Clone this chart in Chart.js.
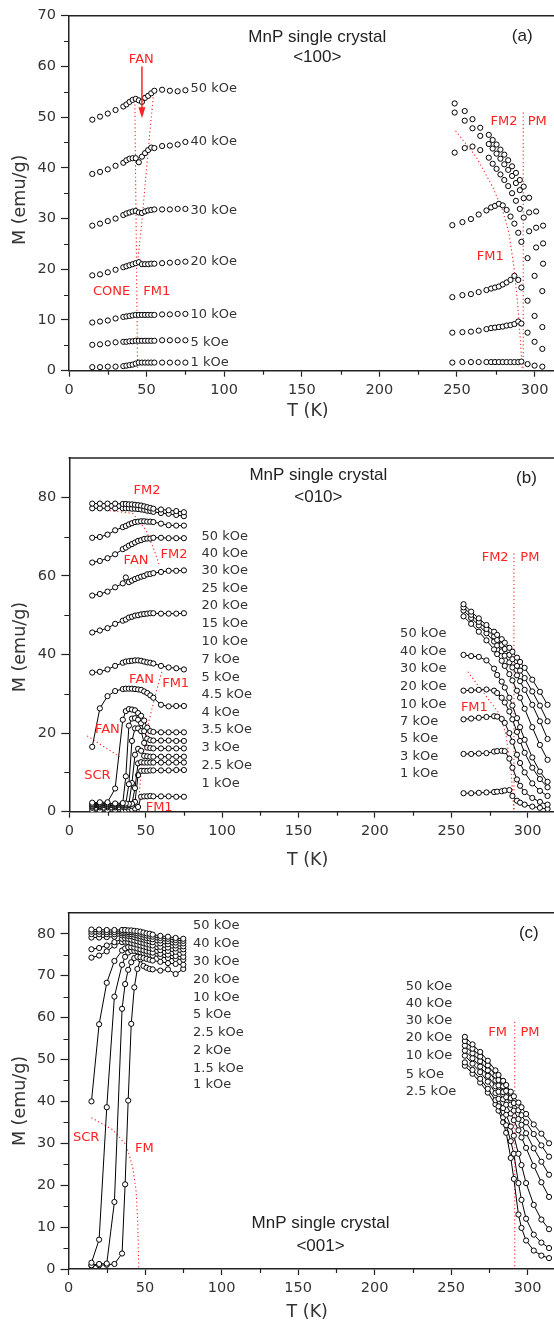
<!DOCTYPE html>
<html>
<head>
<meta charset="utf-8">
<script src="https://cdn.jsdelivr.net/npm/chart.js@4.4.1/dist/chart.umd.min.js"></script>
<style>
  html, body { margin: 0; padding: 0; background: #fff; overflow: hidden; width: 554px; height: 1330px; }
  .panel { position: absolute; left: 0; }
</style>
</head>
<body>
<div class="panel" style="top:0"><canvas id="chartA" width="590" height="440"></canvas></div>
<div class="panel" style="top:440px"><canvas id="chartB" width="590" height="440"></canvas></div>
<div class="panel" style="top:880px"><canvas id="chartC" width="590" height="450"></canvas></div>
<script>
// ---------- (a) field along <100> ----------
const tA_low = [15, 20, 25, 30, 35, 37, 39, 41, 43, 45, 47, 49, 51, 53, 55, 60, 65, 70, 75];
const mA_low50 = [49.5, 50.1, 50.7, 51.4, 52.1, 52.5, 53.0, 53.4, 53.6, 53.3, 53.0, 53.8, 54.2, 54.7, 55.2, 55.4, 55.2, 55.1, 55.3];
const mA_low40 = [38.8, 39.2, 39.7, 40.4, 41.0, 41.5, 41.8, 41.9, 41.9, 41.1, 42.2, 42.9, 43.5, 44.0, 43.9, 44.3, 44.4, 44.6, 45.1];
const mA_low30 = [28.6, 29.0, 29.5, 30.0, 30.7, 31.0, 31.2, 31.4, 31.5, 31.2, 31.1, 31.4, 31.6, 31.7, 31.8, 31.8, 31.8, 31.9, 31.9];
const mA_low20 = [18.8, 19.0, 19.4, 19.9, 20.4, 20.6, 20.8, 21.0, 21.2, 21.4, 21.0, 21.0, 21.0, 21.1, 21.1, 21.2, 21.3, 21.4, 21.5];
const mA_low10 = [9.5, 9.7, 9.9, 10.3, 10.6, 10.7, 10.8, 10.9, 11.0, 11.0, 11.0, 11.0, 11.0, 11.0, 11.0, 11.1, 11.1, 11.2, 11.2];
const mA_low5 = [5.1, 5.2, 5.4, 5.6, 5.7, 5.7, 5.8, 5.8, 5.9, 5.9, 5.9, 5.9, 5.9, 5.9, 5.9, 6.0, 6.0, 6.0, 6.0];
const mA_low1 = [0.7, 0.7, 0.8, 0.8, 0.9, 1.0, 1.1, 1.2, 1.4, 1.6, 1.6, 1.6, 1.6, 1.6, 1.6, 1.6, 1.6, 1.6, 1.6];

const tA_high = [247, 253.5, 259, 264, 269, 272, 274.5, 277, 279.5, 282, 284.5, 287, 289.5, 291.5, 295.5, 300, 305];
const mA_high20 = [28.7, 29.3, 29.9, 30.8, 31.6, 32.2, 32.5, 32.9, 32.6, 31.7, 30.4, 29.0, 27.2, 25.4, 22.2, 18.7, 15.7];
const mA_high10 = [14.5, 14.9, 15.1, 15.5, 15.9, 16.2, 16.4, 16.6, 17.0, 17.4, 17.9, 18.7, 17.9, 16.4, 13.8, 10.8, 8.6];
const mA_high5 = [7.5, 7.6, 7.7, 7.9, 8.2, 8.4, 8.5, 8.6, 8.7, 8.9, 9.0, 9.2, 9.7, 9.3, 7.5, 5.7, 4.3];
const mA_high1 = [1.6, 1.7, 1.7, 1.7, 1.7, 1.7, 1.7, 1.7, 1.7, 1.7, 1.7, 1.7, 1.7, 1.8, 1.3, 1.0, 0.8];
const tA_highHF = [248.5, 255, 260, 265, 270.5, 273, 275.5, 278, 280.5, 283, 285.5, 288, 290.5, 293, 296.5, 301, 305.5];
const mA_high50 = [52.7, 51.2, 49.6, 47.9, 46.5, 45.5, 44.6, 43.6, 42.6, 41.5, 40.3, 39.0, 37.6, 36.3, 34.1, 31.4, 28.6];
const mA_high40 = [50.9, 49.3, 47.8, 46.3, 44.7, 43.8, 42.8, 41.8, 40.7, 39.6, 38.4, 37.0, 35.6, 34.0, 31.2, 28.2, 25.1];
const mA_high30 = [43.0, 43.9, 44.2, 43.5, 42.0, 40.8, 39.8, 38.7, 37.6, 36.4, 35.0, 33.5, 31.9, 30.2, 27.5, 24.3, 21.1];

const fieldsA = ['50 kOe', '40 kOe', '30 kOe', '20 kOe', '10 kOe', '5 kOe', '1 kOe'];

// ---------- (b) field along <010> ----------
const tB_low = [15, 20, 25, 30, 35, 37, 39, 41, 43, 45, 47, 49, 51, 53, 55, 60, 65, 70, 75];
const mB_low50 = [78.4, 78.4, 78.4, 78.4, 78.3, 78.3, 78.2, 78.2, 78.1, 78.0, 77.9, 77.7, 77.5, 77.3, 77.1, 76.9, 76.7, 76.5, 76.2];
const mB_low40 = [77.2, 77.2, 77.2, 77.2, 77.2, 77.2, 77.2, 77.1, 77.1, 77.0, 76.9, 76.8, 76.6, 76.5, 76.3, 76.0, 75.8, 75.5, 75.2];
const mB_low30 = [69.7, 69.9, 70.5, 71.6, 72.4, 72.7, 73.1, 73.4, 73.7, 73.8, 73.9, 73.9, 73.8, 73.8, 73.7, 73.3, 72.9, 72.8, 72.8];
const mB_low25 = [63.4, 63.8, 64.5, 65.5, 66.8, 67.2, 67.7, 68.1, 68.5, 68.9, 69.1, 69.4, 69.5, 69.5, 69.7, 69.7, 69.6, 69.6, 69.6];
const mB_low20 = [55.0, 55.4, 56.0, 57.1, 58.1, 59.6, 58.4, 58.8, 59.2, 59.5, 59.8, 60.0, 60.4, 60.5, 60.7, 61.0, 61.3, 61.3, 61.4];
const mB_low15 = [45.6, 46.1, 46.7, 47.8, 48.6, 48.9, 49.4, 49.6, 49.9, 50.0, 50.2, 50.3, 50.4, 50.5, 50.5, 50.4, 50.4, 50.4, 50.5];
const mB_low10 = [35.4, 35.6, 36.2, 37.1, 37.9, 38.2, 38.3, 38.4, 38.5, 38.5, 38.4, 38.2, 38.0, 37.9, 37.7, 37.1, 36.7, 36.5, 36.2];
const mB_low7 = [16.5, 26.3, 29.4, 30.7, 31.2, 31.3, 31.3, 31.3, 31.2, 31.1, 31.0, 30.6, 30.2, 29.6, 29.0, 27.2, 26.8, 26.9, 26.9];
const mB_low5 = [2.3, 2.4, 2.4, 5.9, 23.4, 25.6, 26.1, 26.0, 25.8, 25.1, 24.4, 23.2, 21.4, 20.5, 20.3, 20.2, 20.2, 20.2, 20.2];
const mB_low45 = [2.0, 2.1, 2.1, 2.1, 2.2, 9.0, 21.9, 23.7, 23.8, 23.4, 22.5, 20.5, 18.6, 18.2, 18.1, 18.1, 18.1, 18.0, 18.0];
const mB_low4 = [1.8, 1.9, 1.9, 1.9, 2.0, 2.1, 7.0, 18.0, 21.2, 21.2, 20.5, 17.5, 16.3, 16.2, 16.1, 16.1, 16.1, 16.1, 16.1];
const mB_low35 = [1.5, 1.6, 1.6, 1.6, 1.7, 1.8, 2.0, 7.3, 14.5, 16.0, 15.5, 14.2, 14.1, 14.0, 14.0, 14.0, 14.0, 14.0, 14.0];
const mB_low3 = [1.3, 1.4, 1.4, 1.4, 1.5, 1.6, 1.7, 2.0, 6.0, 12.3, 12.6, 12.5, 12.5, 12.5, 12.5, 12.5, 12.5, 12.5, 12.5];
const mB_low25k = [1.0, 1.1, 1.1, 1.1, 1.2, 1.2, 1.3, 1.5, 2.5, 9.3, 10.4, 10.4, 10.4, 10.5, 10.5, 10.5, 10.5, 10.6, 10.6];
const mB_low1 = [0.4, 0.4, 0.4, 0.5, 0.5, 0.5, 0.6, 0.6, 0.8, 1.2, 3.8, 3.9, 3.9, 4.0, 3.9, 3.9, 3.9, 3.8, 3.8];

const tB_high = [258, 263, 268, 273, 278, 280, 283, 285, 288, 290, 293, 295, 298, 303, 308, 313];
const mB_high50 = [52.8, 50.9, 49.2, 47.5, 45.8, 45.0, 43.9, 43.0, 41.7, 40.7, 39.2, 38.1, 36.6, 33.6, 30.5, 27.2];
const mB_high40 = [52.0, 50.1, 48.3, 46.5, 44.6, 43.7, 42.4, 41.4, 39.9, 38.8, 37.1, 35.9, 34.0, 30.6, 27.0, 23.0];
const mB_high30 = [51.2, 49.3, 47.4, 45.4, 43.3, 42.3, 40.8, 39.7, 38.0, 36.7, 34.7, 33.2, 31.0, 27.2, 23.0, 18.5];
const mB_high20 = [49.7, 47.8, 45.8, 43.6, 41.3, 40.1, 38.4, 37.1, 35.0, 33.4, 30.8, 29.0, 26.2, 21.5, 17.0, 13.2];
const mB_high10 = [39.9, 39.6, 39.4, 38.5, 36.4, 34.8, 33.1, 31.6, 29.0, 27.0, 23.8, 21.5, 18.3, 13.8, 10.2, 7.6];
const mB_high7 = [30.8, 30.9, 31.0, 31.1, 30.8, 30.2, 29.0, 27.8, 25.5, 23.5, 20.3, 18.0, 15.0, 11.2, 8.3, 6.2];
const mB_high5 = [23.5, 23.7, 23.9, 24.1, 24.3, 24.2, 23.6, 22.6, 20.0, 17.8, 14.5, 12.4, 10.0, 7.2, 5.3, 4.0];
const mB_high3 = [14.7, 14.7, 14.8, 14.9, 15.3, 15.4, 15.5, 15.4, 13.5, 11.2, 8.2, 6.6, 5.0, 3.5, 2.5, 1.8];
const mB_high1 = [4.7, 4.7, 4.8, 4.9, 5.0, 5.1, 5.2, 5.4, 5.5, 4.0, 2.8, 2.3, 1.8, 1.3, 1.0, 0.7];

const fieldsB_low = ['50 kOe', '40 kOe', '30 kOe', '25 kOe', '20 kOe', '15 kOe', '10 kOe', '7 kOe', '5 kOe',
  '4.5 kOe', '4 kOe', '3.5 kOe', '3 kOe', '2.5 kOe', '1 kOe'];
const fieldsB_high = ['50 kOe', '40 kOe', '30 kOe', '20 kOe', '10 kOe', '7 kOe', '5 kOe', '3 kOe', '1 kOe'];

// ---------- (c) field along <001> ----------
const tC_low = [15, 20, 25, 30, 35, 37, 39, 41, 43, 45, 47, 49, 51, 53, 55, 60, 65, 70, 75];
const mC_low50 = [81.0, 81.0, 80.9, 80.9, 80.9, 80.9, 80.8, 80.8, 80.7, 80.6, 80.5, 80.3, 80.1, 80.0, 79.8, 79.5, 79.3, 79.0, 78.8];
const mC_low40 = [80.5, 80.5, 80.4, 80.4, 80.5, 80.5, 80.4, 80.4, 80.3, 80.1, 80.0, 79.8, 79.6, 79.5, 79.3, 79.0, 78.8, 78.5, 78.3];
const mC_low30 = [79.9, 79.9, 79.9, 79.9, 80.1, 80.1, 80.0, 79.9, 79.8, 79.6, 79.4, 79.2, 79.0, 78.9, 78.7, 78.4, 78.2, 77.9, 77.7];
const mC_low20 = [79.1, 79.1, 79.2, 79.3, 79.6, 79.6, 79.5, 79.4, 79.2, 79.0, 78.8, 78.6, 78.4, 78.2, 78.0, 77.7, 77.5, 77.2, 77.0];
const mC_low10 = [76.3, 76.6, 77.2, 78.0, 78.8, 78.9, 78.8, 78.6, 78.4, 78.2, 78.0, 77.8, 77.6, 77.4, 77.2, 76.9, 76.7, 76.5, 76.3];
const mC_low5 = [74.3, 74.8, 75.8, 77.2, 78.0, 78.1, 78.0, 77.8, 77.6, 77.4, 77.2, 77.0, 76.8, 76.6, 76.4, 76.1, 75.9, 75.7, 75.5];
const mC_low25 = [40.0, 58.4, 68.3, 73.5, 76.0, 76.5, 76.8, 76.8, 76.7, 76.5, 76.3, 76.1, 75.9, 75.7, 75.5, 75.2, 75.0, 74.7, 74.5];
const mC_low2 = [1.5, 7.0, 38.6, 65.0, 72.6, 74.5, 75.5, 75.9, 75.9, 75.8, 75.6, 75.4, 75.2, 75.0, 74.8, 74.5, 74.2, 74.0, 73.8];
const mC_low15 = [0.9, 1.2, 1.3, 16.0, 62.1, 68.0, 71.4, 73.2, 74.2, 74.5, 74.4, 74.2, 74.0, 73.8, 73.6, 73.3, 73.0, 72.8, 72.6];
const mC_low1 = [0.8, 0.9, 1.0, 1.2, 3.7, 20.2, 40.2, 58.5, 67.2, 71.6, 73.9, 72.3, 71.9, 71.6, 71.5, 71.2, 71.5, 70.4, 71.6];

const tC_high = [259, 264, 269, 274, 279, 281, 284, 286, 289, 291, 294, 296, 299, 304, 309, 314];
const mC_high50 = [55.4, 53.6, 51.8, 49.7, 47.4, 46.3, 44.9, 43.9, 42.3, 41.2, 39.7, 38.6, 37.0, 34.5, 32.3, 30.0];
const mC_high40 = [54.4, 52.6, 50.7, 48.6, 46.2, 45.1, 43.6, 42.5, 40.8, 39.6, 37.9, 36.7, 35.0, 32.2, 29.5, 26.8];
const mC_high30 = [53.3, 51.5, 49.6, 47.4, 45.0, 43.8, 42.2, 41.0, 39.2, 37.8, 35.8, 34.4, 32.4, 28.8, 25.6, 22.5];
const mC_high20 = [52.1, 50.3, 48.3, 46.1, 43.6, 42.3, 40.5, 39.2, 37.1, 35.5, 33.1, 31.4, 28.9, 24.6, 20.7, 17.2];
const mC_high10 = [50.9, 49.0, 47.0, 44.7, 42.0, 40.6, 38.4, 36.8, 34.0, 31.8, 27.5, 24.8, 20.5, 15.3, 11.8, 9.5];
const mC_high5 = [49.3, 47.5, 45.4, 43.0, 40.3, 38.8, 36.2, 34.3, 30.5, 27.5, 20.5, 16.5, 12.0, 8.2, 6.3, 5.0];
const mC_high25 = [48.5, 46.6, 44.5, 42.1, 39.3, 37.8, 35.0, 32.5, 26.5, 21.5, 13.0, 9.8, 6.8, 4.4, 3.2, 2.6];

const fieldsC_low = ['50 kOe', '40 kOe', '30 kOe', '20 kOe', '10 kOe', '5 kOe', '2.5 kOe', '2 kOe', '1.5 kOe', '1 kOe'];
const fieldsC_high = ['50 kOe', '40 kOe', '30 kOe', '20 kOe', '10 kOe', '5 kOe', '2.5 kOe'];

// x tick labels (K)
const tTicks = [0, 50, 100, 150, 200, 250, 300];

// ---------- styling ----------
const RED = '#ff2222';
const INK = '#222';
const GREY = '#333';
const TICK_FONT = { family: 'DejaVu Sans', size: 14.5 };
const NOTE_FONT = '13px "DejaVu Sans"';
const TITLE_FONT = '17px "Liberation Sans", Arial, sans-serif';
const AXIS_FONT = '17.5px "DejaVu Sans"';

const pts = (ts, ms) => ts.map((t, i) => ({ x: t, y: ms[i] }));

function runs(ts, list, joined) {
  return list.map(ms => ({
    data: pts(ts, ms),
    showLine: joined,
    borderColor: '#000',
    borderWidth: 1,
    pointRadius: 2.6,
    pointBorderWidth: 1,
    pointBorderColor: '#000',
    pointBackgroundColor: '#fff'
  }));
}

function dotted(ts, ms) {
  return { data: pts(ts, ms), showLine: true, borderColor: RED, borderWidth: 1.1, borderDash: [1.2, 2.6], pointRadius: 0 };
}

function axes(p) {
  return {
    x: {
      type: 'linear', min: 0, max: p.xMax,
      afterBuildTicks: s => { s.ticks = tTicks.map(v => ({ value: v })); },
      afterFit: s => { s.height = p.xHeight; },
      ticks: { color: GREY, font: TICK_FONT, padding: 5, maxRotation: 0, autoSkip: false },
      grid: { drawOnChartArea: false, drawTicks: true, tickLength: 6, tickColor: INK, tickWidth: 1.2 },
      border: { display: true, color: INK, width: 1.5 }
    },
    y: {
      type: 'linear', min: 0, max: p.yMax,
      afterBuildTicks: s => { s.ticks = s.ticks.filter(t => t.value % p.yStep === 0); },
      afterFit: s => { s.width = p.yWidth; },
      ticks: { stepSize: p.yStep, color: GREY, font: TICK_FONT, padding: 5 },
      grid: { drawOnChartArea: false, drawTicks: true, tickLength: 8, tickColor: INK, tickWidth: 1.2 },
      border: { display: true, color: INK, width: 1.5 }
    }
  };
}

// frame top, minor ticks, text notes, arrow and axis titles
const notes = {
  id: 'notes',
  afterDraw(chart, args, o) {
    const { ctx, chartArea: a } = chart;
    const x = chart.scales.x, y = chart.scales.y;
    ctx.save();
    ctx.strokeStyle = INK;
    ctx.lineWidth = 1.5;
    ctx.beginPath();
    ctx.moveTo(a.left - 0.75, a.top);
    ctx.lineTo(a.right, a.top);
    ctx.stroke();

    ctx.lineWidth = 1.2;
    ctx.beginPath();
    for (let v = 25; v < x.max; v += 50) {
      const px = Math.round(x.getPixelForValue(v)) + 0.5;
      ctx.moveTo(px, a.bottom);
      ctx.lineTo(px, a.bottom + 4);
    }
    for (let v = o.yMinor; v < y.max; v += o.yMinor * 2) {
      const py = Math.round(y.getPixelForValue(v)) + 0.5;
      ctx.moveTo(a.left, py);
      ctx.lineTo(a.left - 5, py);
    }
    ctx.stroke();

    ctx.textBaseline = 'middle';
    for (const n of o.texts) {
      ctx.font = n.font || NOTE_FONT;
      ctx.fillStyle = n.color || GREY;
      ctx.textAlign = n.align || 'center';
      ctx.fillText(n.t, x.getPixelForValue(n.x), y.getPixelForValue(n.y));
    }

    if (o.arrow) {
      const ax = x.getPixelForValue(o.arrow.x);
      const y0 = y.getPixelForValue(o.arrow.from);
      const y1 = y.getPixelForValue(o.arrow.to);
      ctx.strokeStyle = RED;
      ctx.fillStyle = RED;
      ctx.lineWidth = 1.5;
      ctx.beginPath();
      ctx.moveTo(ax, y0);
      ctx.lineTo(ax, y1 - 9);
      ctx.stroke();
      ctx.beginPath();
      ctx.moveTo(ax, y1);
      ctx.lineTo(ax - 3.5, y1 - 11);
      ctx.lineTo(ax + 3.5, y1 - 11);
      ctx.closePath();
      ctx.fill();
    }

    ctx.fillStyle = GREY;
    ctx.font = AXIS_FONT;
    ctx.textAlign = 'center';
    ctx.fillText('T (K)', x.getPixelForValue(o.xTitleAt), a.bottom + o.xTitleDrop);
    ctx.translate(20, y.getPixelForValue(o.yTitleAt));
    ctx.rotate(-Math.PI / 2);
    ctx.fillText('M (emu/g)', 0, 0);
    ctx.restore();
  }
};

function labelColumn(names, tx, ms) {
  return names.map((t, i) => ({ t, x: tx, y: ms[i], align: 'left' }));
}
const red = (t, x, y) => ({ t, x, y, color: RED });
const title = (t, x, y) => ({ t, x, y, font: TITLE_FONT, color: INK });

function build(id, p, datasets, texts, extra) {
  return new Chart(document.getElementById(id), {
    type: 'scatter',
    data: { datasets },
    options: {
      responsive: false,
      animation: false,
      events: [],
      layout: { padding: { top: p.padTop, left: 0, right: 0, bottom: 0 } },
      scales: axes(p),
      plugins: {
        legend: { display: false },
        tooltip: { enabled: false },
        notes: Object.assign({ texts, yMinor: p.yStep / 2 }, extra)
      }
    },
    plugins: [notes]
  });
}

// ---------- panel (a) ----------
build('chartA',
  { padTop: 15.7, xHeight: 69.3, yWidth: 69, xMax: 332.5, yMax: 70, yStep: 10 },
  [
    ...runs(tA_low, [mA_low50, mA_low40, mA_low30, mA_low20, mA_low10, mA_low5, mA_low1], false),
    ...runs(tA_high, [mA_high20, mA_high10, mA_high5, mA_high1], false),
    ...runs(tA_highHF, [mA_high50, mA_high40, mA_high30], false),
    dotted([42.4, 44.2], [54, 0]),
    dotted([54.7, 51.5, 48.7, 46.2, 44.2], [55.4, 45, 35.5, 27, 21.5]),
    dotted([292.7, 292.7], [50.9, 0]),
    dotted([249.1, 262.3, 272.9, 279.3, 283.5, 286.7, 288.9, 291, 292.1], [47.3, 42.2, 36.3, 31.7, 27.1, 20.5, 13.9, 5.4, 0])
  ],
  [
    title('MnP single crystal', 160, 65.8),
    title('<100>', 160, 61.7),
    title('(a)', 292, 65.9),
    red('FAN', 46.6, 61.4), red('CONE', 27.4, 15.5), red('FM1', 56.5, 15.5),
    red('FM2', 280.3, 49.1), red('PM', 301.7, 49.1), red('FM1', 271.4, 22.4),
    ...labelColumn(fieldsA, 78.3, [55.6, 45.1, 31.6, 21.5, 11.0, 5.5, 1.5])
  ],
  { arrow: { x: 47.0, from: 60.0, to: 49.8 }, xTitleAt: 154, xTitleDrop: 41, yTitleAt: 33.7 }
);

// ---------- panel (b) ----------
build('chartB',
  { padTop: 18, xHeight: 68.3, yWidth: 69.3, xMax: 337.5, yMax: 90, yStep: 20 },
  [
    ...runs(tB_low, [mB_low50, mB_low40, mB_low30, mB_low25, mB_low20, mB_low15, mB_low10, mB_low7,
      mB_low5, mB_low45, mB_low4, mB_low35, mB_low3, mB_low25k, mB_low1], true),
    ...runs(tB_high, [mB_high50, mB_high40, mB_high30, mB_high20, mB_high10, mB_high7, mB_high5, mB_high3, mB_high1], true),
    dotted([26.4, 41.5, 50.2, 55.5, 58.8], [76.6, 75.9, 71.7, 66.6, 62.8]),
    dotted([60.5, 56.6, 52.3, 49.1, 46.9, 45.8, 45.8], [35.6, 30.1, 23.3, 16.5, 9.7, 4.6, 0]),
    dotted([11.7, 32.9], [19.3, 14.0]),
    dotted([291, 291], [65.7, 0]),
    dotted([260.8, 268.3, 281.3, 285.6, 288.9, 291], [35.6, 31.7, 25.0, 19.9, 11.5, 0])
  ],
  [
    title('MnP single crystal', 163, 85.7),
    title('<010>', 163, 80.1),
    title('(b)', 299.2, 84.9),
    red('FM2', 50.8, 81.7), red('FAN', 43.7, 63.8), red('FM2', 68.5, 65.5),
    red('FAN', 47.3, 33.7), red('FM1', 69.6, 32.7), red('FAN', 24.9, 20.8),
    red('SCR', 18.4, 9.3), red('FM1', 58.8, 1.1),
    red('FM2', 278.7, 64.7), red('PM', 301.4, 64.7), red('FM1', 265.1, 26.6),
    ...labelColumn(fieldsB_low, 86.5, [70, 65.7, 61.3, 56.8, 52.4, 47.9, 43.3, 38.6, 34.2, 29.7, 25.2, 20.8, 16.3, 11.7, 7.2]),
    ...labelColumn(fieldsB_high, 216.5, [45.2, 40.7, 36.3, 31.8, 27.3, 22.9, 18.5, 14.0, 9.6])
  ],
  { xTitleAt: 156, xTitleDrop: 49, yTitleAt: 41.9 }
);

// ---------- panel (c) ----------
build('chartC',
  { padTop: 32.8, xHeight: 61, yWidth: 68.5, xMax: 337.5, yMax: 85, yStep: 10 },
  [
    ...runs(tC_low, [mC_low50, mC_low40, mC_low30, mC_low20, mC_low10, mC_low5, mC_low25, mC_low2, mC_low15, mC_low1], true),
    ...runs(tC_high, [mC_high50, mC_high40, mC_high30, mC_high20, mC_high10, mC_high5, mC_high25], true),
    dotted([15, 29, 37.7, 41.9, 44.1, 45.2, 45.9], [36.1, 33.2, 29.6, 24.4, 18.9, 11.7, 0]),
    dotted([291.6, 291.6], [59, 0])
  ],
  [
    title('MnP single crystal', 164.7, 10.9),
    title('<001>', 164.7, 5.5),
    title('(c)', 300.8, 80.1),
    red('SCR', 11.5, 31.4), red('FM', 49.5, 28.8),
    red('FM', 280.4, 56.3), red('PM', 301.5, 56.3),
    ...labelColumn(fieldsC_low, 81.4, [81.9, 77.6, 73.3, 69.1, 64.8, 60.6, 56.4, 52.1, 47.9, 43.9]),
    ...labelColumn(fieldsC_high, 220.4, [67.5, 63.4, 59.3, 55.1, 50.8, 46.5, 42.3])
  ],
  { xTitleAt: 156, xTitleDrop: 43, yTitleAt: 40.1 }
);
</script>
</body>
</html>
